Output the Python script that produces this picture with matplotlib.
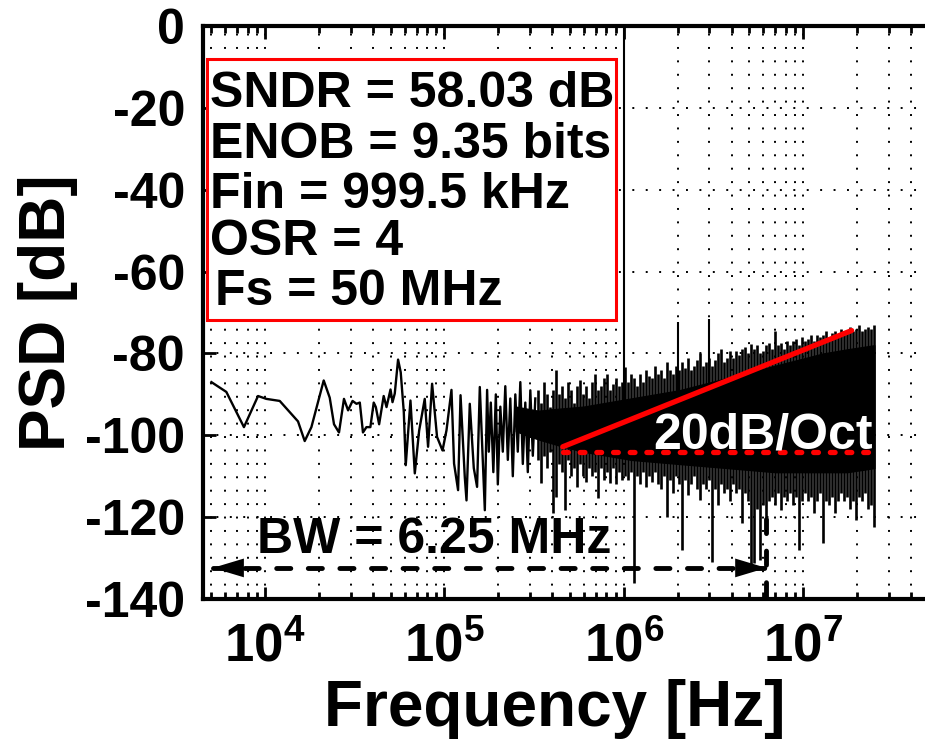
import numpy as np
import matplotlib.pyplot as plt
from matplotlib.patches import Rectangle
from matplotlib.ticker import LogLocator, NullFormatter

plt.rcParams['font.family'] = 'Liberation Sans'
plt.rcParams['font.weight'] = 'bold'
plt.rcParams['mathtext.fontset'] = 'custom'
plt.rcParams['mathtext.rm'] = 'Liberation Sans:bold'
plt.rcParams['mathtext.bf'] = 'Liberation Sans:bold'

# low frequency part of the spectrum (single bins still visible)
f_low_khz = [5.01, 6.07, 7.61, 9.12, 10.15, 12.05, 15.24, 16.61, 18.1, 21.2,
             22.9, 24.2, 25.8, 27.5, 29.0, 30.7, 32.3, 33.7, 35.1, 36.7,
             38.6, 40.3, 41.4, 43.2, 45.8, 47.5, 50.0, 51.3, 52.8, 55.1,
             57.0, 59.3, 60.8, 64.6, 68.3, 72.2, 77.6, 81.0, 85.3, 90.9,
             97.5, 102.6, 109.4, 113.1, 119.1, 122.9, 129.8, 132.7, 138.4, 145.7,
             152.0, 157.4, 167.9, 172.9, 176.7, 181.3, 187.3, 193.4, 198.4, 204.9,
             211.5, 218.4, 225.6, 232.9, 240.5, 248.4, 256.4, 264.9, 273.5, 282.4,
             291.6, 301.2, 311.0, 321.1]
psd_low = [-87.0, -89.4, -98.0, -90.4, -91.1, -91.6, -96.6, -101.4, -98.0, -86.6,
           -90.8, -97.3, -99.3, -91.1, -93.9, -91.6, -92.3, -92.0, -99.3, -98.0,
           -98.0, -92.0, -93.1, -97.3, -90.4, -93.1, -88.8, -91.9, -89.8, -81.5,
           -84.6, -94.3, -107.3, -91.5, -109.3, -98.9, -91.1, -102.8, -87.4, -100.4,
           -103.7, -98.8, -88.9, -106.9, -113.4, -90.2, -110.2, -115.9, -92.3, -108.0,
           -112.6, -88.2, -118.3, -88.9, -104.0, -92.0, -109.0, -90.0, -112.0, -93.0,
           -104.0, -88.0, -106.0, -91.0, -110.0, -90.0, -104.0, -87.0, -107.0, -92.0,
           -109.0, -89.0, -105.0, -91.0]

# dense part: per-column max / min of the trace
col_f_khz = [333.8, 346.9, 360.5, 374.7, 389.4, 404.7, 420.6, 437.1, 454.3, 472.1,
             490.7, 509.9, 529.9, 550.8, 572.4, 594.9, 618.3, 642.6, 667.8, 694.0,
             721.3, 749.6, 779.1, 809.7, 841.5, 874.6, 908.9, 944.6, 981.7, 1020.3,
             1060.4, 1102.0, 1145.3, 1190.3, 1237.1, 1285.7, 1336.2, 1388.7, 1443.2, 1499.9,
             1558.8, 1620.1, 1683.7, 1749.9, 1818.6, 1890.0, 1964.3, 2041.5, 2121.7, 2205.0,
             2291.6, 2381.7, 2475.2, 2572.5, 2673.5, 2778.5, 2887.7, 3001.1, 3119.0, 3241.5,
             3368.9, 3501.2, 3638.7, 3781.7, 3930.3, 4084.7, 4245.1, 4411.9, 4585.2, 4765.3,
             4952.5, 5147.1, 5349.3, 5559.4, 5777.8, 6004.8, 6240.7, 6485.9, 6740.7, 7005.5,
             7280.7, 7566.7, 7864.0, 8172.9, 8494.0, 8827.7, 9174.5, 9534.9, 9909.5, 10298.8,
             10703.4, 11123.9, 11560.9, 12015.1, 12487.1, 12977.7, 13487.5, 14017.4, 14568.1, 15140.4,
             15735.2, 16353.4, 16995.8, 17663.5, 18357.5, 19078.6, 19828.2, 20607.1, 21416.7, 22258.1,
             23132.5, 24041.3, 24985.8]
col_hi = [-89, -92, -87, -90, -93, -89, -84, -90, -88, -91,
          -87, -89, -92, -88, -86.5, -90, -88, -91, -87, -85,
          -89, -88, -86, -85, -89, -87.5, -86, -88, -87, -83.4,
          -87, -85, -86, -88, -85, -87, -84, -85.5, -86, -83,
          -85, -84, -86, -82, -84, -85, -83, -84, -82, -83.5,
          -81, -84, -83, -81.5, -80, -83, -82, -81, -83, -81.5,
          -80, -79, -82, -81, -79.5, -81, -79.5, -80.5, -79, -78.5,
          -80, -77.6, -79, -78, -80, -79.5, -78, -77.5, -79, -74.4,
          -78, -77.5, -79, -77, -78, -77, -76.5, -78, -76, -77,
          -76.5, -75.5, -77, -75.5, -76, -75.5, -74.5, -76, -75, -74.5,
          -75.5, -74, -74.5, -75, -73.5, -74.5, -74, -73, -74.5, -74,
          -73.5, -74, -73]
col_lo = [-106, -111.7, -105, -108, -104, -119, -115, -107, -109, -118.3,
          -106, -110, -108, -112.6, -107, -110, -111.5, -108, -110, -109,
          -115.4, -108, -111, -109, -111.7, -108, -112, -109, -111, -110,
          -111, -109, -136, -110, -112, -109, -112.6, -110, -111.5, -109,
          -112, -113, -110, -120, -111, -114, -110, -112, -128, -111,
          -114.5, -112, -110, -113, -115.8, -112, -113, -111, -131, -113,
          -117, -112, -114, -113, -116, -112, -114, -113, -121.5, -114,
          -116, -132, -131.3, -118, -130.5, -117, -124, -116, -115, -117,
          -114, -118.3, -115, -116, -114, -117, -115, -128, -116, -114,
          -116, -115, -119, -116, -114, -126.4, -116, -117, -115, -119,
          -116, -114, -116, -115, -118, -116, -120.7, -115, -116, -114,
          -118, -117, -122.4]

# solid core of the noise floor
core_f_khz = [250, 334, 437, 595, 810, 1102, 1500, 2041, 2778, 3782,
              5147, 7006, 9535, 12978, 17664, 25000]
core_top = [-93, -94, -93.5, -93, -92, -91, -90, -89, -87.5, -86,
            -84.5, -83, -81.5, -80, -79, -78]
core_bot = [-99, -101, -102.5, -104, -105, -106, -106.5, -107, -107.5, -108,
            -108.5, -109, -109, -109, -109, -108]

# input tone and its harmonics
spur_f_khz = [999.5, 1999.0, 2998.5]
spur_db = [0.0, -72.4, -71.5]

# annotations
slope_f_khz = [457, 18670]
slope_db = [-102.8, -74.4]
flat_f_khz = [457, 25000]
flat_db = [-104.1, -104.1]
bw_f_khz = [5.09, 6250]
bw_db = [-132.4, -132.4]
bw_mark_db = [-120.5, -140]

info_lines = ['SNDR = 58.03 dB', 'ENOB = 9.35 bits', 'Fin = 999.5 kHz', 'OSR = 4', 'Fs = 50 MHz']

x_ticks = [1e4, 1e5, 1e6, 1e7]
x_labels = [r'$\mathbf{10^{4}}$', r'$\mathbf{10^{5}}$', r'$\mathbf{10^{6}}$', r'$\mathbf{10^{7}}$']
y_ticks = [0, -20, -40, -60, -80, -100, -120, -140]
y_labels = ['0', '-20', '-40', '-60', '-80', '-100', '-120', '-140']

k = 1e3
base = -98  # inside the core

fig = plt.figure(figsize=(9.25, 7.39), dpi=100)
ax = fig.add_axes([0.2195, 0.1894, 0.7841, 0.7754])
ax.set_xscale('log')
ax.set_xlim(4.5e3, 5e7)
ax.set_ylim(-140, 0)

dots = (0, (1, 5.9))
ax.set_axisbelow(True)
ax.xaxis.set_minor_locator(LogLocator(base=10, subs=np.arange(2, 10)))
ax.xaxis.set_minor_formatter(NullFormatter())
ax.grid(True, which='major', color='k', lw=1.4, linestyle=dots)
ax.grid(True, which='minor', axis='x', color='k', lw=1.4, linestyle=dots)

ax.plot(np.array(f_low_khz) * k, psd_low, color='k', lw=1.7)
ax.fill_between(np.array(core_f_khz) * k, core_bot, core_top, facecolor='k', edgecolor='k', lw=1)
ax.vlines(np.array(col_f_khz) * k, col_lo, col_hi, color='k', lw=1.9)
ax.vlines(np.array(spur_f_khz) * k, base, spur_db, color='k', lw=1.5)

ax.plot(np.array(slope_f_khz) * k, slope_db, color='red', lw=3.8, solid_capstyle='round', zorder=4)
ax.plot(np.array(flat_f_khz) * k, flat_db, color='red', lw=3.8, linestyle=(0, (0.9, 2.26)),
        dash_capstyle='round', zorder=4)
ax.text(0.6204, 0.2635, '20dB/Oct', transform=ax.transAxes, color='white', fontsize=36,
        fontweight='bold', va='baseline', ha='left', zorder=5)

# bandwidth arrow
dash = (0, (2.9, 3.6))
ax.plot(np.array(bw_f_khz) * k, bw_db, color='k', lw=3.5, linestyle=dash, dash_capstyle='round', zorder=4)
head = '-|>,head_length=1.5,head_width=0.45'
ax.annotate('', xy=(bw_f_khz[0] * k, bw_db[0]), xytext=(bw_f_khz[0] * k * 2, bw_db[0]),
            arrowprops=dict(arrowstyle=head, color='k', lw=0, shrinkA=0, shrinkB=0, mutation_scale=15),
            zorder=4)
ax.annotate('', xy=(bw_f_khz[1] * k, bw_db[1]), xytext=(bw_f_khz[1] * k / 2, bw_db[1]),
            arrowprops=dict(arrowstyle=head, color='k', lw=0, shrinkA=0, shrinkB=0, mutation_scale=15),
            zorder=4)
ax.plot([bw_f_khz[1] * k] * 2, bw_mark_db, color='k', lw=3.5, linestyle=dash, dash_capstyle='round', zorder=4)
ax.text(0.0745, 0.0803, 'BW = 6.25 MHz', transform=ax.transAxes, fontsize=36, fontweight='bold',
        va='baseline', ha='left', zorder=5)

# result box
ax.add_patch(Rectangle((0.0051, 0.4869), 0.5643, 0.455, transform=ax.transAxes,
                       facecolor='white', edgecolor='red', lw=2.2, zorder=5))
line_y = [0.8581, 0.7696, 0.6824, 0.6003, 0.5131]
line_x = [0.0097, 0.0097, 0.0097, 0.0097, 0.0165]
for s, xx, yy in zip(info_lines, line_x, line_y):
    ax.text(xx, yy, s, transform=ax.transAxes, fontsize=36, fontweight='bold',
            va='baseline', ha='left', zorder=6)

ax.set_xticks(x_ticks)
ax.set_xticklabels(x_labels)
ax.set_yticks(y_ticks)
ax.set_yticklabels(y_labels)
ax.tick_params(which='both', direction='in', top=True, right=False, width=2)
ax.tick_params(which='major', length=9)
ax.tick_params(which='minor', length=5)
ax.tick_params(axis='y', labelsize=36, pad=13)
ax.tick_params(axis='x', labelsize=38, pad=17)
for sp in ax.spines.values():
    sp.set_linewidth(3)

ax.set_xlabel('Frequency [Hz]', fontsize=46, fontweight='bold')
ax.set_ylabel('PSD [dB]', fontsize=46, fontweight='bold')
ax.xaxis.set_label_coords(0.485, -0.14)
ax.yaxis.set_label_coords(-0.172, 0.5)

fig.savefig('out.png', dpi=100)
